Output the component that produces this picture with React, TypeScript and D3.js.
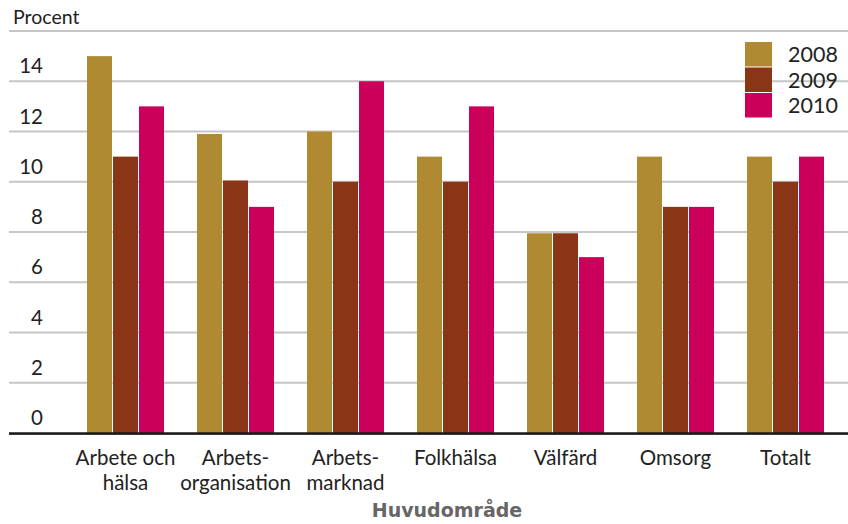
import React from 'react';
import * as d3 from 'd3';

const categories = [
  ['Arbete och', 'hälsa'],
  ['Arbets-', 'organisation'],
  ['Arbets-', 'marknad'],
  ['Folkhälsa'],
  ['Välfärd'],
  ['Omsorg'],
  ['Totalt'],
];
const years = ['2008', '2009', '2010'];
const values2008 = [15, 11.9, 12, 11, 7.95, 11, 11];
const values2009 = [11, 10.05, 10, 10, 7.95, 9, 10];
const values2010 = [13, 9, 14, 13, 7, 9, 11];
const yTicks = [0, 2, 4, 6, 8, 10, 12, 14];

const colors = ['#AF8A32', '#8A3515', '#CA005A'];
const font = 'Lato, "Open Sans", sans-serif';

const App: React.FC = () => {
  const width = 848;
  const height = 524;
  const series = [values2008, values2009, values2010];

  const x0 = d3.scaleBand<number>()
    .domain(d3.range(categories.length))
    .range([70.5, 840.5])
    .paddingInner(0.3)
    .paddingOuter(0.15);

  const x1 = d3.scaleBand<string>()
    .domain(years)
    .range([0, 78]);

  const y = d3.scaleLinear().domain([0, 16]).range([433, 31]);

  return (
    <svg width={width} height={height} style={{ position: 'absolute', left: 0, top: 0, background: '#fff' }}>
      <text x={13} y={24} fontFamily={font} fontSize={19.5} fill="#222">Procent</text>

      {/* gridlines */}
      {[...yTicks.slice(1), 16].map(t => (
        <line key={t} x1={9} x2={848} y1={y(t)} y2={y(t)} stroke="#c6c6c6" strokeWidth={2} />
      ))}

      {/* tick labels */}
      {yTicks.map(t => (
        <text key={t} x={43} y={y(t) - 8} textAnchor="end" fontFamily={font} fontSize={20.5} fill="#222">{t}</text>
      ))}

      {/* bars */}
      {categories.map((_, i) => (
        <g key={i} transform={`translate(${x0(i)},0)`}>
          {years.map((yr, j) => (
            <rect
              key={yr}
              x={x1(yr)}
              y={y(series[j][i])}
              width={x1.bandwidth() - 1}
              height={y(0) - y(series[j][i])}
              fill={colors[j]}
            />
          ))}
        </g>
      ))}

      {/* baseline */}
      <line x1={9} x2={848} y1={434.5} y2={434.5} stroke="#999" strokeWidth={1} />
      <line x1={9} x2={848} y1={433.5} y2={433.5} stroke="#1a1a1a" strokeWidth={2.5} />

      {/* category labels */}
      {categories.map((lines, i) => (
        <text key={i} textAnchor="middle" fontFamily={font} fontSize={20.5} fill="#222">
          {lines.map((l, k) => (
            <tspan key={k} x={(x0(i) as number) + x0.bandwidth() / 2} y={465 + k * 25}>{l}</tspan>
          ))}
        </text>
      ))}

      <text x={447} y={517} textAnchor="middle" fontFamily='"DejaVu Sans", sans-serif' fontSize={19} fontWeight="bold" fill="#666">Huvudområde</text>

      {/* legend */}
      {years.map((yr, j) => (
        <g key={yr} transform={`translate(745,${42 + j * 25.5})`}>
          <rect x={0} y={0} width={27} height={24.5} fill={colors[j]} />
          <text x={43} y={20} fontFamily={font} fontSize={21.5} fill="#222">{yr}</text>
        </g>
      ))}
    </svg>
  );
};

export default App;
